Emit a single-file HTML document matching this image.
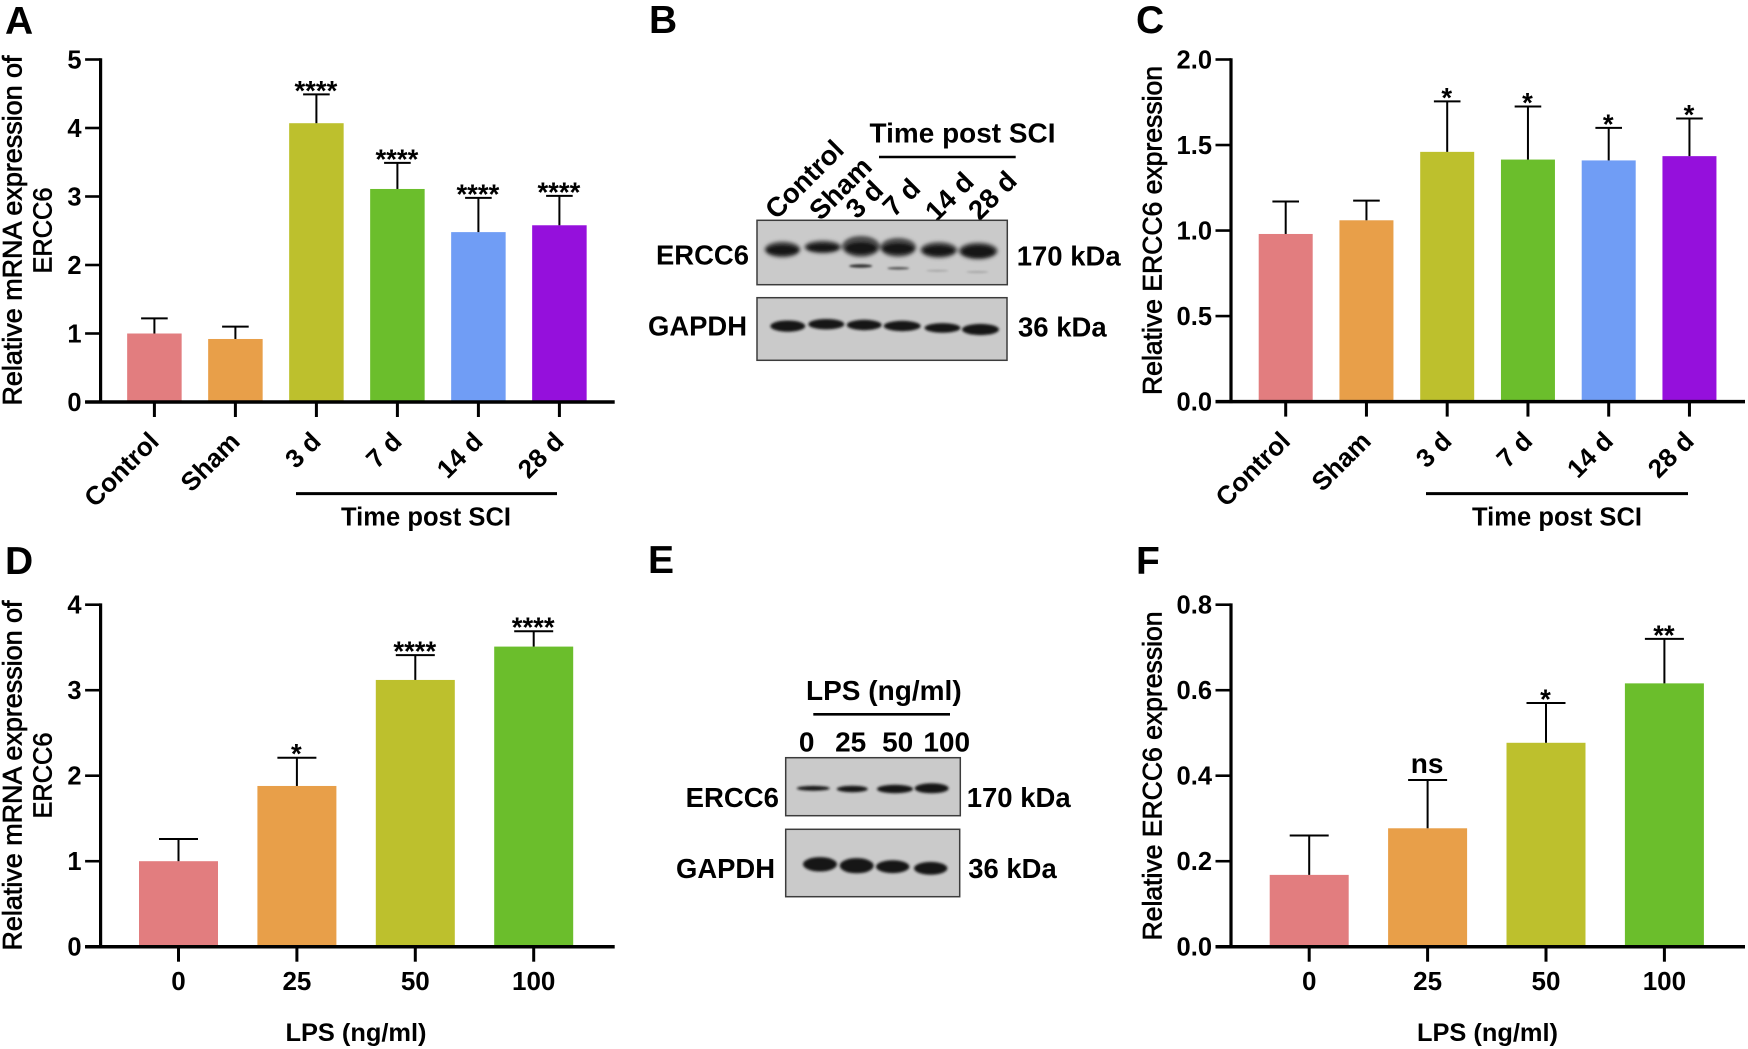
<!DOCTYPE html>
<html lang="en">
<head>
<meta charset="utf-8">
<title>ERCC6 expression figure</title>
<style>
html,body{margin:0;padding:0;background:#fff;width:1748px;height:1049px;overflow:hidden}
svg{display:block}
text{font-family:"Liberation Sans",Arial,sans-serif;fill:#000;font-weight:700}
.title{font-weight:400;stroke:#000;stroke-width:.7px}
.blot{fill:#cacaca;stroke:#3c3c3c;stroke-width:1.5}
.halo{fill:#4a4a4a}
.band{fill:#141414}
</style>
</head>
<body>
<svg id="figure" xmlns="http://www.w3.org/2000/svg" width="1748" height="1049" viewBox="0 0 1748 1049">
<defs>
<filter id="blur-halo" x="-30%" y="-80%" width="160%" height="260%"><feGaussianBlur stdDeviation="1.8"/></filter>
<filter id="blur-band" x="-30%" y="-80%" width="160%" height="260%"><feGaussianBlur stdDeviation="1.2"/></filter>
<filter id="blur-faint" x="-30%" y="-200%" width="160%" height="500%"><feGaussianBlur stdDeviation="1"/></filter>
</defs>
<rect width="1748" height="1049" fill="#fff"/>

<text x="5" y="34" font-size="39">A</text>
<text x="649" y="33" font-size="39">B</text>
<text x="1136" y="33" font-size="39">C</text>
<text x="5" y="574" font-size="39">D</text>
<text x="648" y="573" font-size="39">E</text>
<text x="1136" y="574" font-size="39">F</text>

<g id="panel-a">
<text class="title" transform="translate(21.5,230.5) rotate(-90)" text-anchor="middle" font-size="26.8" textLength="350" lengthAdjust="spacingAndGlyphs">Relative mRNA expression of</text>
<text class="title" transform="translate(51.5,230.5) rotate(-90)" text-anchor="middle" font-size="26" textLength="86" lengthAdjust="spacingAndGlyphs">ERCC6</text>
<line x1="296" x2="557" y1="493.6" y2="493.6" stroke="#000" stroke-width="3"/>
<text x="426" y="525.5" text-anchor="middle" font-size="25.5" textLength="170" lengthAdjust="spacing">Time post SCI</text>
</g>

<g id="panel-c">
<text class="title" transform="translate(1161.5,230.5) rotate(-90)" text-anchor="middle" font-size="26.4" textLength="329" lengthAdjust="spacingAndGlyphs">Relative ERCC6 expression</text>
<line x1="1426" x2="1688" y1="493.6" y2="493.6" stroke="#000" stroke-width="3"/>
<text x="1557" y="525.5" text-anchor="middle" font-size="25.5" textLength="170" lengthAdjust="spacing">Time post SCI</text>
</g>

<g id="panel-d">
<text class="title" transform="translate(21.5,775.5) rotate(-90)" text-anchor="middle" font-size="26.8" textLength="350" lengthAdjust="spacingAndGlyphs">Relative mRNA expression of</text>
<text class="title" transform="translate(51.5,775.5) rotate(-90)" text-anchor="middle" font-size="26" textLength="86" lengthAdjust="spacingAndGlyphs">ERCC6</text>
<text x="356" y="1041" text-anchor="middle" font-size="25.4" textLength="141" lengthAdjust="spacing">LPS (ng/ml)</text>
</g>

<g id="panel-f">
<text class="title" transform="translate(1161.5,776) rotate(-90)" text-anchor="middle" font-size="26.4" textLength="329" lengthAdjust="spacingAndGlyphs">Relative ERCC6 expression</text>
<text x="1487.5" y="1041" text-anchor="middle" font-size="25.4" textLength="141" lengthAdjust="spacing">LPS (ng/ml)</text>
</g>

<g id="panel-b">
<text x="962.5" y="142.7" text-anchor="middle" font-size="27.9" textLength="186" lengthAdjust="spacing">Time post SCI</text>
<line x1="879" x2="1015.7" y1="157" y2="157" stroke="#000" stroke-width="2.6"/>
<text transform="translate(811,186) rotate(-45)" text-anchor="middle" font-size="27.5">Control</text>
<text transform="translate(847,195) rotate(-45)" text-anchor="middle" font-size="27.5">Sham</text>
<text transform="translate(871,206) rotate(-45)" text-anchor="middle" font-size="27.5">3 d</text>
<text transform="translate(908,204) rotate(-45)" text-anchor="middle" font-size="27.5">7 d</text>
<text transform="translate(956,203) rotate(-45)" text-anchor="middle" font-size="27.5">14 d</text>
<text transform="translate(999,202) rotate(-45)" text-anchor="middle" font-size="27.5">28 d</text>
<text x="656" y="264.5" font-size="27.4" textLength="93" lengthAdjust="spacingAndGlyphs">ERCC6</text>
<text x="648" y="335.5" font-size="27.4" textLength="99" lengthAdjust="spacingAndGlyphs">GAPDH</text>
<text x="1016.7" y="265.5" font-size="27.5" textLength="104" lengthAdjust="spacingAndGlyphs">170 kDa</text>
<text x="1018" y="336.5" font-size="27.5" textLength="88.7" lengthAdjust="spacingAndGlyphs">36 kDa</text>
<rect class="blot" x="757" y="220.3" width="250.3" height="64.4"/>
<g filter="url(#blur-halo)">
<ellipse class="halo" cx="782.5" cy="249.5" rx="18" ry="8"/>
<ellipse class="halo" cx="822.8" cy="247" rx="18.5" ry="6.5"/>
<ellipse class="halo" cx="861" cy="246.5" rx="19" ry="10.5"/>
<ellipse class="halo" cx="898.2" cy="247.5" rx="18" ry="9.5"/>
<ellipse class="halo" cx="938.8" cy="250" rx="18.5" ry="8"/>
<ellipse class="halo" cx="978.2" cy="251" rx="19.5" ry="8.5"/>
</g>
<g filter="url(#blur-band)">
<ellipse class="band" cx="782.5" cy="250" rx="15" ry="4.5"/>
<ellipse class="band" cx="822.8" cy="247.5" rx="15" ry="3.5"/>
<ellipse class="band" cx="861" cy="248" rx="15" ry="5.5"/>
<ellipse class="band" cx="898.2" cy="248.5" rx="15" ry="5"/>
<ellipse class="band" cx="938.8" cy="250.5" rx="15" ry="4.5"/>
<ellipse class="band" cx="978.2" cy="251.5" rx="16" ry="5.5"/>
</g>
<g filter="url(#blur-faint)">
<ellipse cx="860.7" cy="266" rx="11.5" ry="1.8" fill="#333"/>
<ellipse cx="898.3" cy="268.3" rx="11" ry="1.3" fill="#555"/>
<ellipse cx="937.3" cy="270.7" rx="11" ry="1" fill="#a5a5a5"/>
<ellipse cx="977.3" cy="272" rx="11" ry="1" fill="#a5a5a5"/>
</g>
<rect class="blot" x="757" y="297.7" width="250" height="62.6"/>
<g filter="url(#blur-band)">
<ellipse class="band" cx="787.8" cy="326.1" rx="17.5" ry="5.6"/>
<ellipse class="band" cx="826.3" cy="324.2" rx="18" ry="5.2"/>
<ellipse class="band" cx="864.2" cy="325" rx="17.5" ry="5.2"/>
<ellipse class="band" cx="902.2" cy="326" rx="18.5" ry="5.2"/>
<ellipse class="band" cx="942.5" cy="327.9" rx="18" ry="4.8"/>
<ellipse class="band" cx="980.5" cy="329.5" rx="18.5" ry="5.6"/>
</g>
</g>

<g id="panel-e">
<text x="883.8" y="700" text-anchor="middle" font-size="28" textLength="155.7" lengthAdjust="spacing">LPS (ng/ml)</text>
<line x1="813.3" x2="950" y1="714.3" y2="714.3" stroke="#000" stroke-width="2.6"/>
<text x="806.7" y="751.5" text-anchor="middle" font-size="28">0</text>
<text x="850.7" y="751.5" text-anchor="middle" font-size="28">25</text>
<text x="897.7" y="751.5" text-anchor="middle" font-size="28">50</text>
<text x="946.7" y="751.5" text-anchor="middle" font-size="28">100</text>
<text x="685.7" y="807" font-size="27.4" textLength="93.3" lengthAdjust="spacingAndGlyphs">ERCC6</text>
<text x="676" y="878" font-size="27.4" textLength="99" lengthAdjust="spacingAndGlyphs">GAPDH</text>
<text x="966.7" y="807" font-size="27.5" textLength="104" lengthAdjust="spacingAndGlyphs">170 kDa</text>
<text x="968.3" y="878" font-size="27.5" textLength="88.4" lengthAdjust="spacingAndGlyphs">36 kDa</text>
<rect class="blot" x="785.7" y="757.7" width="174.6" height="58"/>
<g filter="url(#blur-band)">
<ellipse class="band" cx="813.3" cy="788.3" rx="16.5" ry="2.4"/>
<ellipse class="band" cx="852.3" cy="789" rx="15.5" ry="3.2"/>
<ellipse class="band" cx="895" cy="789" rx="18" ry="4.2"/>
<ellipse class="band" cx="931.7" cy="788.3" rx="17" ry="5"/>
</g>
<rect class="blot" x="785.7" y="829.3" width="174" height="67.4"/>
<g filter="url(#blur-band)">
<ellipse class="band" cx="820" cy="864.3" rx="17" ry="7.2"/>
<ellipse class="band" cx="856.7" cy="865.7" rx="17" ry="7.6"/>
<ellipse class="band" cx="892.7" cy="866.7" rx="16.7" ry="6.4"/>
<ellipse class="band" cx="930.7" cy="868.3" rx="16.7" ry="6.4"/>
</g>
</g>
</svg>

<script>
var panelACategories = ['Control', 'Sham', '3 d', '7 d', '14 d', '28 d'];
var panelAValues = [1.0, 0.92, 4.07, 3.11, 2.48, 2.58];
var panelAErrorTops = [1.22, 1.10, 4.49, 3.49, 2.98, 3.01];
var panelASignificance = ['', '', '****', '****', '****', '****'];
var panelATicks = ['0', '1', '2', '3', '4', '5'];

var panelCCategories = ['Control', 'Sham', '3 d', '7 d', '14 d', '28 d'];
var panelCValues = [0.98, 1.06, 1.46, 1.415, 1.41, 1.435];
var panelCErrorTops = [1.17, 1.175, 1.755, 1.725, 1.60, 1.655];
var panelCSignificance = ['', '', '*', '*', '*', '*'];
var panelCTicks = ['0.0', '0.5', '1.0', '1.5', '2.0'];

var panelDCategories = ['0', '25', '50', '100'];
var panelDValues = [1.0, 1.88, 3.12, 3.51];
var panelDErrorTops = [1.26, 2.21, 3.41, 3.69];
var panelDSignificance = ['', '*', '****', '****'];
var panelDTicks = ['0', '1', '2', '3', '4'];

var panelFCategories = ['0', '25', '50', '100'];
var panelFValues = [0.168, 0.277, 0.477, 0.616];
var panelFErrorTops = [0.26, 0.39, 0.57, 0.72];
var panelFSignificance = ['', 'ns', '*', '**'];
var panelFTicks = ['0.0', '0.2', '0.4', '0.6', '0.8'];

var barColors = ['#e27d7f', '#e89f49', '#bdc02d', '#6bbe2c', '#709df5', '#9510dc'];

var SVG_NS = 'http://www.w3.org/2000/svg';

function svgEl(tag, parent, props) {
  var el = document.createElementNS(SVG_NS, tag);
  for (var k in props) { el.setAttribute(k, props[k]); }
  parent.appendChild(el);
  return el;
}

function drawBarChart(cfg) {
  var root = document.getElementById(cfg.id);
  var yMax = parseFloat(cfg.ticks[cfg.ticks.length - 1]);
  function yScale(v) { return cfg.bottom - (v / yMax) * (cfg.bottom - cfg.top); }
  function xScale(i) { return cfg.first + cfg.step * i; }

  cfg.values.forEach(function (v, i) {
    var bar = svgEl('rect', root, { x: xScale(i) - cfg.barW / 2, y: yScale(v), width: cfg.barW, height: yScale(0) - yScale(v), fill: barColors[i] });
    
    

    var stem = svgEl('line', root, { x1: xScale(i), x2: xScale(i), y1: yScale(v), y2: yScale(cfg.errorTops[i]), stroke: '#000', 'stroke-width': 2 });
    
    

    var cap = svgEl('line', root, { x1: xScale(i) - cfg.capW / 2, x2: xScale(i) + cfg.capW / 2, y1: yScale(cfg.errorTops[i]), y2: yScale(cfg.errorTops[i]), stroke: '#000', 'stroke-width': 2 });
    
    

    if (cfg.significance[i]) {
      var isNs = cfg.significance[i] === 'ns';
      var sig = svgEl('text', root, { x: xScale(i) - 0.5, y: yScale(cfg.errorTops[i]) + (isNs ? -7 : 5.5), 'text-anchor': 'middle', 'font-size': isNs ? 28 : 27.5 });
      sig.textContent = cfg.significance[i];
      
      
    }

    var xTick = svgEl('line', root, { x1: xScale(i), x2: xScale(i), y1: yScale(0), y2: yScale(0) + 15, stroke: '#000', 'stroke-width': 3 });
    
    

    var label;
    if (cfg.rotated) {
      label = svgEl('text', root, { transform: 'translate(' + (xScale(i) + 6) + ',' + (yScale(0) + 41) + ') rotate(-45)', 'text-anchor': 'end', 'font-size': 26 });
    } else {
      label = svgEl('text', root, { x: xScale(i), y: yScale(0) + 43.5, 'text-anchor': 'middle', 'font-size': 26 });
    }
    label.textContent = cfg.categories[i];
    
    
  });

  cfg.ticks.forEach(function (t) {
    var yPos = yScale(parseFloat(t));
    var tick = svgEl('line', root, { x1: cfg.axisX - 15.5, x2: cfg.axisX, y1: yPos, y2: yPos, stroke: '#000', 'stroke-width': 2.6 });
    
    

    var tickLabel = svgEl('text', root, { x: cfg.axisX - 19, y: yPos + 9, 'text-anchor': 'end', 'font-size': 25.5 });
    tickLabel.textContent = t;
    
    
  });

  var yAxis = svgEl('line', root, { x1: cfg.axisX, x2: cfg.axisX, y1: yScale(yMax) - 1.3, y2: yScale(0) + 1.5, stroke: '#000', 'stroke-width': 3.2 });
  
  

  var xAxis = svgEl('line', root, { x1: cfg.axisX - 15.5, x2: cfg.axisEnd, y1: yScale(0), y2: yScale(0), stroke: '#000', 'stroke-width': 3.5 });
  
  
}

drawBarChart({ id: 'panel-a', categories: panelACategories, values: panelAValues, errorTops: panelAErrorTops, significance: panelASignificance, ticks: panelATicks, axisX: 100.6, axisEnd: 614.7, top: 59.5, bottom: 402, first: 154.4, step: 81, barW: 54.5, capW: 26.6, rotated: true });
drawBarChart({ id: 'panel-c', categories: panelCCategories, values: panelCValues, errorTops: panelCErrorTops, significance: panelCSignificance, ticks: panelCTicks, axisX: 1231, axisEnd: 1745, top: 59.5, bottom: 401.6, first: 1285.7, step: 80.75, barW: 54, capW: 26.6, rotated: true });
drawBarChart({ id: 'panel-d', categories: panelDCategories, values: panelDValues, errorTops: panelDErrorTops, significance: panelDSignificance, ticks: panelDTicks, axisX: 100.6, axisEnd: 614.7, top: 604.7, bottom: 946.7, first: 178.5, step: 118.4, barW: 79, capW: 39, rotated: false });
drawBarChart({ id: 'panel-f', categories: panelFCategories, values: panelFValues, errorTops: panelFErrorTops, significance: panelFSignificance, ticks: panelFTicks, axisX: 1231, axisEnd: 1745, top: 604.7, bottom: 946.7, first: 1309.2, step: 118.4, barW: 79, capW: 39, rotated: false });
</script>
</body>
</html>
